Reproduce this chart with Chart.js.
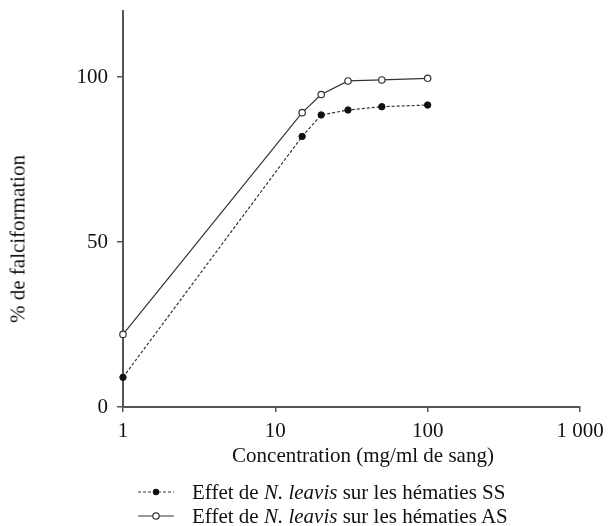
<!DOCTYPE html>
<html>
<head>
<meta charset="utf-8">
<script src="https://cdn.jsdelivr.net/npm/chart.js@4"></script>
<style>
  body { margin: 0; background: #fff; }
  #wrap { position: relative; width: 609px; height: 526px; font-family: "Liberation Serif", "Times New Roman", serif; color: #111; }
  #box { position: absolute; left: 0; top: 0; width: 609px; height: 467px; }
  #ytitle { position: absolute; left: 18px; top: 239px; transform: translate(-50%, -50%) rotate(-90deg); white-space: nowrap; font-size: 21px; }
  #xtitle { position: absolute; left: 363px; top: 443px; transform: translateX(-50%); white-space: nowrap; font-size: 21px; line-height: 24px; }
  #legend { position: absolute; left: 138px; top: 480px; font-size: 21px; line-height: 24px; }
  #legend div { display: flex; align-items: center; }
  #legend svg { margin-right: 18px; }
</style>
</head>
<body>
<div id="wrap">
  <div id="box"><canvas id="chart"></canvas></div>
  <div id="ytitle">% de falciformation</div>
  <div id="xtitle">Concentration (mg/ml de sang)</div>
  <div id="legend">
    <div><svg width="36" height="10"><line x1="0" y1="5" x2="36" y2="5" stroke="#333" stroke-width="1.2" stroke-dasharray="3,2"/><circle cx="18" cy="5" r="3.2" fill="#111"/></svg><span>Effet de <i>N. leavis</i> sur les hématies SS</span></div>
    <div><svg width="36" height="10"><line x1="0" y1="5" x2="36" y2="5" stroke="#333" stroke-width="1.2"/><circle cx="18" cy="5" r="3.2" fill="#fff" stroke="#333" stroke-width="1.2"/></svg><span>Effet de <i>N. leavis</i> sur les hématies AS</span></div>
  </div>
</div>
<script>
// valeurs
const concentrations = [1, 15, 20, 30, 50, 100];
const ssValues = [9, 82, 88.5, 90, 91, 91.5];
const asValues = [22, 89.2, 94.7, 98.8, 99.1, 99.6];
const xTicks = [1, 10, 100, 1000];
const xTickLabels = ['1', '10', '100', '1 000'];
const yTicks = [0, 50, 100];

const font = { family: '"Liberation Serif", "Times New Roman", serif', size: 21 };

new Chart(document.getElementById('chart'), {
    type: 'line',
    data: {
        datasets: [
            {
                label: 'SS',
                data: concentrations.map((c, i) => ({ x: c, y: ssValues[i] })),
                borderColor: '#333',
                borderWidth: 1.2,
                borderDash: [3, 2],
                pointRadius: 3.2,
                pointBackgroundColor: '#111',
                pointBorderColor: '#111',
                pointBorderWidth: 1,
                clip: false
            },
            {
                label: 'AS',
                data: concentrations.map((c, i) => ({ x: c, y: asValues[i] })),
                borderColor: '#333',
                borderWidth: 1.2,
                pointRadius: 3.2,
                pointBackgroundColor: '#fff',
                pointBorderColor: '#333',
                pointBorderWidth: 1.2,
                clip: false
            }
        ]
    },
    options: {
        responsive: true,
        maintainAspectRatio: false,
        animation: false,
        layout: { padding: { top: 11, right: 29, left: 0, bottom: 0 } },
        plugins: { legend: { display: false }, tooltip: { enabled: false } },
        scales: {
            x: {
                type: 'logarithmic',
                min: 1,
                max: 1000,
                afterBuildTicks: (scale) => { scale.ticks = xTicks.map(v => ({ value: v })); },
                afterFit: (scale) => { scale.height = 60; scale.paddingLeft = 0; scale.paddingRight = 0; },
                ticks: {
                    color: '#111',
                    font: font,
                    padding: 7,
                    maxRotation: 0,
                    callback: (v) => xTickLabels[xTicks.indexOf(v)]
                },
                grid: { drawOnChartArea: false, drawTicks: true, tickLength: 5, color: '#555', lineWidth: 1.5 },
                border: { color: '#555', width: 2 }
            },
            y: {
                min: 0,
                max: 120,
                afterBuildTicks: (scale) => { scale.ticks = yTicks.map(v => ({ value: v })); },
                afterFit: (scale) => { scale.width = 123; scale.paddingTop = 0; scale.paddingBottom = 0; },
                ticks: { color: '#111', font: font, padding: 9 },
                grid: { drawOnChartArea: false, drawTicks: true, tickLength: 6, color: '#555', lineWidth: 1.5 },
                border: { color: '#555', width: 2 }
            }
        }
    }
});
</script>
</body>
</html>
